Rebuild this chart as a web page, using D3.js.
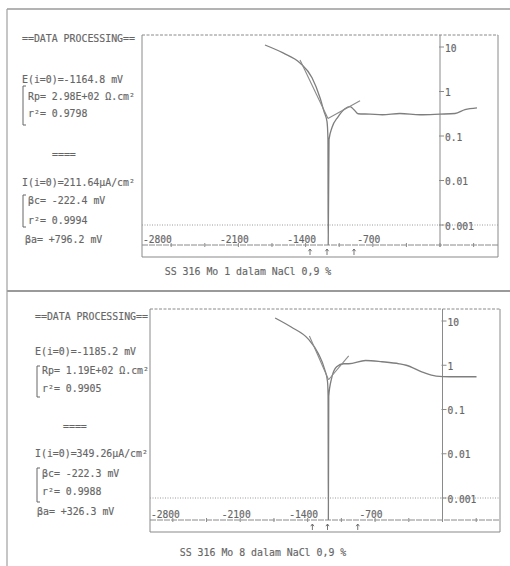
<!DOCTYPE html>
<html><head><meta charset="utf-8">
<script src="https://cdn.jsdelivr.net/npm/d3@7"></script>
<style>
html,body{margin:0;padding:0;background:#fff;}
svg text{font-family:"DejaVu Sans Mono","Liberation Mono",monospace;}
</style>
</head><body>
<svg id="c" width="510" height="566"></svg>
<script>
// ---------- shared axis data ----------
const xTicks = [-2800,-2450,-2100,-1750,-1400,-1050,-700,-350,0,350];
const xTickLabels = [-2800,-2100,-1400,-700];
const yTicks = [10,1,0.1,0.01,0.001];
const yTickLabels = ["10","1","0.1","0.01","0.001"];

// ---------- panel 1 (SS 316 Mo 1) ----------
const p1Title = "SS 316 Mo 1 dalam NaCl 0,9 %";
const p1E = [-1823,-1635,-1458,-1333,-1250,-1208,-1177,-1167,-1164.8,-1156,-1125,-1062,-990,-937,-896,-854,-729,-600,-417,-208,0,156,260,385];
const p1I = [11.1,7.35,4.39,2.03,0.724,0.354,0.21,0.083,0.0003,0.083,0.155,0.27,0.41,0.457,0.39,0.316,0.31,0.30,0.32,0.30,0.31,0.32,0.39,0.43];
const p1CathFitE = [-1458,-1167];
const p1CathFitI = [5.12,0.246];
const p1AnodFitE = [-1167,-833];
const p1AnodFitI = [0.246,0.62];
const p1ArrowsE = [-1354,-1177,-896];
const p1Text = ["==DATA PROCESSING==","E(i=0)=-1164.8 mV","Rp= 2.98E+02 Ω.cm²","r²= 0.9798","====","I(i=0)=211.64µA/cm²","βc= -222.4 mV","r²= 0.9994","βa= +796.2 mV"];

// ---------- panel 2 (SS 316 Mo 8) ----------
const p2Title = "SS 316 Mo 8 dalam NaCl 0,9 %";
const p2E = [-1738,-1571,-1393,-1288,-1225,-1194,-1188,-1185.2,-1181,-1152,-1099,-1026,-974,-799,-628,-450,-377,-209,-66,73,353];
const p2I = [11.7,7.3,3.9,1.81,0.83,0.43,0.206,0.0003,0.2,0.5,0.92,1.08,1.08,1.28,1.2,1.08,1.0,0.70,0.57,0.55,0.55];
const p2CathFitE = [-1382,-1183];
const p2CathFitI = [4.6,0.47];
const p2AnodFitE = [-1183,-974];
const p2AnodFitI = [0.47,1.63];
const p2ArrowsE = [-1351,-1194,-880];
const p2Text = ["==DATA PROCESSING==","E(i=0)=-1185.2 mV","Rp= 1.19E+02 Ω.cm²","r²= 0.9905","====","I(i=0)=349.26µA/cm²","βc= -222.3 mV","r²= 0.9988","βa= +326.3 mV"];

// ---------- drawing ----------
const svg = d3.select("#c");
const LINE = "#8a8a8a", TXT = "#666666";
svg.append("rect").attr("width",510).attr("height",566).attr("fill","#fff");

// outer page frame
svg.append("line").attr("x1",7).attr("x2",510).attr("y1",9).attr("y2",9).attr("stroke","#9a9a9a").attr("stroke-width",1.6);
svg.append("line").attr("x1",7).attr("x2",510).attr("y1",291).attr("y2",291).attr("stroke","#9a9a9a").attr("stroke-width",1.8);
svg.append("line").attr("x1",7).attr("x2",7).attr("y1",9).attr("y2",566).attr("stroke","#a0a0a0").attr("stroke-width",1.2);

function drawPanel(cfg, idx){
  const L = cfg.layout;
  const g = svg.append("g");
  const x = d3.scaleLinear().domain(L.xDomain).range([L.x0, L.x1]);
  const y = d3.scaleLog().domain([10,0.001]).range([L.y10, L.y001]);
  const ax = x(0);

  // left text block
  cfg.text.forEach((t,i)=>{
    g.append("text").attr("x", L.textX[i]).attr("y", L.textY[i]).attr("font-size", 9.9)
      .attr("fill", TXT).attr("stroke",TXT).attr("stroke-width",0.15).text(t);
  });
  // brackets
  L.brackets.forEach(b=>{
    g.append("path").attr("d",`M${b[0]+3},${b[1]}H${b[0]}V${b[2]}H${b[0]+3}`)
      .attr("fill","none").attr("stroke",TXT).attr("stroke-width",1);
  });

  // frame
  g.append("line").attr("x1",L.x0).attr("x2",L.x1).attr("y1",L.y0).attr("y2",L.y0)
    .attr("stroke",LINE).attr("stroke-dasharray","3,1.5");
  g.append("line").attr("x1",L.x0).attr("x2",L.x0).attr("y1",L.y0).attr("y2",L.yb).attr("stroke",LINE);
  g.append("line").attr("x1",L.x1).attr("x2",L.x1).attr("y1",L.y0).attr("y2",L.yb).attr("stroke",LINE);
  g.append("line").attr("x1",L.x0).attr("x2",L.x1).attr("y1",L.yb).attr("y2",L.yb).attr("stroke",LINE).attr("stroke-width",1.2);
  // x axis line
  g.append("line").attr("x1",L.x0).attr("x2",L.x1).attr("y1",L.xa).attr("y2",L.xa)
    .attr("stroke",LINE).attr("stroke-dasharray","6,1");
  // dotted 0.001 grid line
  g.append("line").attr("x1",L.x0).attr("x2",L.x1).attr("y1",y(0.001)).attr("y2",y(0.001))
    .attr("stroke","#9a9a9a").attr("stroke-dasharray","1,1.5");
  // y axis
  g.append("line").attr("x1",ax).attr("x2",ax).attr("y1",L.y0).attr("y2",L.xa+2).attr("stroke",LINE);

  // x ticks
  g.selectAll(null).data(xTicks).join("line")
    .attr("x1",d=>x(d)).attr("x2",d=>x(d)).attr("y1",L.xa-2).attr("y2",L.xa+2)
    .attr("stroke",LINE);
  g.selectAll(null).data(xTickLabels).join("text")
    .attr("x",(d,i)=> i===0 ? L.x0+1 : x(d)-4).attr("y",L.xa-2)
    .attr("text-anchor",(d,i)=> i===0 ? "start" : "middle").attr("font-size",9.6).attr("fill",TXT)
    .attr("stroke",TXT).attr("stroke-width",0.15).text(d=>d);
  // y ticks
  g.selectAll(null).data(yTicks).join("line")
    .attr("x1",ax-1).attr("x2",ax+4).attr("y1",d=>y(d)).attr("y2",d=>y(d)).attr("stroke",LINE);
  g.selectAll(null).data(yTicks).join("text")
    .attr("x",ax+5).attr("y",d=>y(d)+4.5).attr("font-size",9.6).attr("fill",TXT)
    .attr("stroke",TXT).attr("stroke-width",0.15).text((d,i)=>yTickLabels[i]);

  // clip
  const cid = "clip"+idx;
  svg.append("clipPath").attr("id",cid).append("rect")
    .attr("x",L.x0).attr("y",L.y0).attr("width",L.x1-L.x0).attr("height",L.xa-L.y0);
  const pg = g.append("g").attr("clip-path",`url(#${cid})`);
  const line = d3.line().x(d=>x(d[0])).y(d=>y(d[1])).curve(d3.curveMonotoneX);
  pg.append("path").attr("d", line(cfg.E.map((e,i)=>[e,cfg.I[i]])))
    .attr("fill","none").attr("stroke","#7e7e7e").attr("stroke-width",1.3);
  const fl = d3.line().x(d=>x(d[0])).y(d=>y(d[1]));
  pg.append("path").attr("d", fl(cfg.cE.map((e,i)=>[e,cfg.cI[i]])))
    .attr("fill","none").attr("stroke","#8a8a8a").attr("stroke-width",1.1);
  pg.append("path").attr("d", fl(cfg.aE.map((e,i)=>[e,cfg.aI[i]])))
    .attr("fill","none").attr("stroke","#8a8a8a").attr("stroke-width",1.1);

  // arrows
  cfg.arrows.forEach(e=>{
    const px = x(e), top = L.xa+4, bot = L.yb-2;
    g.append("path").attr("d",`M${px},${bot}V${top}M${px-1.6},${top+2.2}L${px},${top}L${px+1.6},${top+2.2}`)
      .attr("fill","none").attr("stroke",TXT).attr("stroke-width",0.9);
  });

  // caption
  g.append("text").attr("x",L.capX).attr("y",L.capY).attr("text-anchor","middle")
    .attr("font-size",9.9).attr("fill",TXT).attr("stroke",TXT).attr("stroke-width",0.15).text(cfg.title);
}

drawPanel({
  title:p1Title, E:p1E, I:p1I, cE:p1CathFitE, cI:p1CathFitI, aE:p1AnodFitE, aI:p1AnodFitI,
  arrows:p1ArrowsE, text:p1Text,
  layout:{xDomain:[-3104,604], x0:142, x1:498, y0:35, yb:257, xa:245, y10:47, y001:225,
    textX:[22,22,28,28,52,22,28,28,25], textY:[41.5,82.5,99.5,116.5,157.5,185.5,203.5,223.5,242.5],
    brackets:[[23,86,125],[23,195,227]], capX:248, capY:274.5}
},1);

drawPanel({
  title:p2Title, E:p2E, I:p2I, cE:p2CathFitE, cI:p2CathFitI, aE:p2AnodFitE, aI:p2AnodFitI,
  arrows:p2ArrowsE, text:p2Text,
  layout:{xDomain:[-3037,597], x0:150, x1:500, y0:309, yb:532, xa:520, y10:321, y001:498,
    textX:[35,35,42,42,63,35,42,42,37], textY:[319.5,354.5,373.5,391.5,429.5,456.5,476.5,494.5,514.5],
    brackets:[[37,366,397],[37,468,502]], capX:263, capY:555.5}
},2);
</script>
</body></html>
